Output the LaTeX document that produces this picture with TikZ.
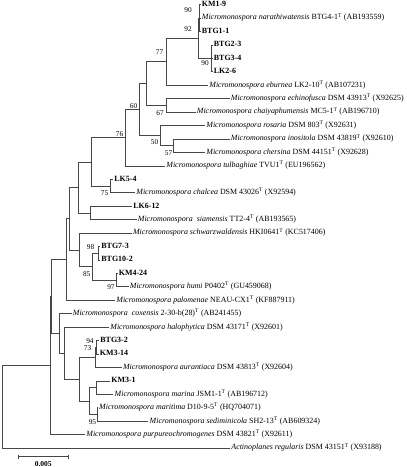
\documentclass[tikz,border=0pt]{standalone}
\usepackage{fontspec}
\setmainfont{Liberation Serif}
\newcommand{\mmono}[3]{\textit{Micromonospora #1} #2\textsuperscript{T} (#3)}
\begin{document}
\begin{tikzpicture}[x=1pt,y=-1pt,
  br/.style={draw=black!72,line width=0.5pt},
  leaf/.style={anchor=west,inner xsep=1.2pt,inner ysep=0pt,text height=5.5pt,text depth=1.6pt,font=\fontsize{7.95}{9}\selectfont},
  iso/.style={leaf,font=\fontsize{7.95}{9}\selectfont\bfseries},
  boot/.style={inner sep=0pt,font=\fontsize{7.3}{8}\selectfont}]
\useasboundingbox (0,0) rectangle (407,467);
% internal nodes
\coordinate (n90a) at (199.5,17.95);
\coordinate (n90b) at (211.5,58.25);
\coordinate (n92) at (198,38.1);
\coordinate (n77) at (166,61.6);
\coordinate (n67) at (166,105.3);
\coordinate (na) at (146.7,83.45);
\coordinate (n57) at (173.3,145.6);
\coordinate (n50) at (160.3,135.55);
\coordinate (n60) at (139.3,109.5);
\coordinate (n76) at (125,137.65);
\coordinate (n75) at (110,185.95);
\coordinate (nb) at (91.3,161.8);
\coordinate (nc) at (90.7,212.8);
\coordinate (nq) at (78.3,187.3);
\coordinate (n98) at (98.7,253.15);
\coordinate (n97) at (116,280);
\coordinate (n85) at (92.3,266.6);
\coordinate (nr) at (79.3,249.8);
\coordinate (np) at (69,218.55);
\coordinate (ns) at (66,259.4);
\coordinate (n94) at (96.7,347.25);
\coordinate (n73) at (95.7,357.3);
\coordinate (nk) at (96.3,387.55);
\coordinate (n95) at (97.3,414.45);
\coordinate (nm) at (89.3,401);
\coordinate (nh) at (79.3,379.15);
\coordinate (ng) at (64,353.1);
\coordinate (nu) at (59.3,333.35);
\coordinate (nt) at (51.7,296.4);
\coordinate (nv) at (50,365.5);
\coordinate (root) at (2.7,406.8);
% leaves
\node[iso]  (l0)  at (200.5,4.5)   {KM1-9};
\node[leaf] (l1)  at (200.5,17.94) {\mmono{narathiwatensis}{BTG4-1}{AB193559}};
\node[iso]  (l2)  at (200.5,31.38) {BTG1-1};
\node[iso]  (l3)  at (212.5,44.82) {BTG2-3};
\node[iso]  (l4)  at (212.5,58.26) {BTG3-4};
\node[iso]  (l5)  at (212.5,71.7)  {LK2-6};
\node[leaf] (l6)  at (208,85.14)   {\mmono{eburnea}{LK2-10}{AB107231}};
\node[leaf] (l7)  at (229.5,98.58) {\mmono{echinofusca}{DSM 43913}{X92625}};
\node[leaf] (l8)  at (195.5,112.02){\mmono{chaiyaphumensis}{MC5-1}{AB196710}};
\node[leaf] (l9)  at (205,125.46)  {\mmono{rosaria}{DSM 803}{X92631}};
\node[leaf] (l10) at (229.5,138.9) {\mmono{inositola}{DSM 43819}{X92610}};
\node[leaf] (l11) at (205,152.34)  {\mmono{chersina}{DSM 44151}{X92628}};
\node[leaf] (l12) at (165,165.78)  {\mmono{tulbaghiae}{TVU1}{EU196562}};
\node[iso]  (l13) at (113,179.22)  {LK5-4};
\node[leaf] (l14) at (135,192.66)  {\mmono{chalcea}{DSM 43026}{X92594}};
\node[iso]  (l15) at (132,206.1)   {LK6-12};
\node[leaf] (l16) at (136.5,219.54){\textit{Micromonospora\ \ siamensis} TT2-4\textsuperscript{T} (AB193565)};
\node[leaf] (l17) at (131.7,232.98){\mmono{schwarzwaldensis}{HKI0641}{KC517406}};
\node[iso]  (l18) at (100,246.42)  {BTG7-3};
\node[iso]  (l19) at (100,259.86)  {BTG10-2};
\node[iso]  (l20) at (117.5,273.3) {KM4-24};
\node[leaf] (l21) at (128.5,286.74){\mmono{humi}{P0402}{GU459068}};
\node[leaf] (l22) at (115,300.18)  {\mmono{palomenae}{NEAU-CX1}{KF887911}};
\node[leaf] (l23) at (71.5,313.62) {\textit{Micromonospora\ \ coxensis} 2-30-b(28)\textsuperscript{T} (AB241455)};
\node[leaf] (l24) at (109,327.06)  {\mmono{halophytica}{DSM 43171}{X92601}};
\node[iso]  (l25) at (99,340.5)    {BTG3-2};
\node[iso]  (l26) at (98.5,353.94) {KM3-14};
\node[leaf] (l27) at (121.7,367.38){\mmono{aurantiaca}{DSM 43813}{X92604}};
\node[iso]  (l28) at (110,380.82)  {KM3-1};
\node[leaf] (l29) at (113.3,394.26){\mmono{marina}{JSM1-1}{AB196712}};
\node[leaf] (l30) at (97.8,407.7)  {\mmono{maritima}{D10-9-5}{HQ704071}};
\node[leaf] (l31) at (148.3,421.14){\mmono{sediminicola}{SH2-13}{AB609324}};
\node[leaf] (l32) at (85,434.58)   {\mmono{purpureochromogenes}{DSM 43821}{X92611}};
\node[leaf] (l33) at (230,448.02)  {\textit{Actinoplanes regularis} DSM 43151\textsuperscript{T} (X93188)};
% branches
\draw[br] (n90a) |- (l0.west); \draw[br] (n90a) |- (l1.west); \draw[br] (n90a) |- (l2.west);
\draw[br] (n90b) |- (l3.west); \draw[br] (n90b) |- (l4.west); \draw[br] (n90b) |- (l5.west);
\draw[br] (n92) |- (n90a); \draw[br] (n92) |- (n90b);
\draw[br] (n77) |- (n92); \draw[br] (n77) |- (l6.west);
\draw[br] (n67) |- (l7.west); \draw[br] (n67) |- (l8.west);
\draw[br] (na) |- (n77); \draw[br] (na) |- (n67);
\draw[br] (n57) |- (l10.west); \draw[br] (n57) |- (l11.west);
\draw[br] (n50) |- (l9.west); \draw[br] (n50) |- (n57);
\draw[br] (n60) |- (na); \draw[br] (n60) |- (n50);
\draw[br] (n76) |- (n60); \draw[br] (n76) |- (l12.west);
\draw[br] (n75) |- (l13.west); \draw[br] (n75) |- (l14.west);
\draw[br] (nb) |- (n76); \draw[br] (nb) |- (n75);
\draw[br] (nc) |- (l15.west); \draw[br] (nc) |- (l16.west);
\draw[br] (nq) |- (nb); \draw[br] (nq) |- (nc);
\draw[br] (n98) |- (l18.west); \draw[br] (n98) |- (l19.west);
\draw[br] (n97) |- (l20.west); \draw[br] (n97) |- (l21.west);
\draw[br] (n85) |- (n98); \draw[br] (n85) |- (n97);
\draw[br] (nr) |- (l17.west); \draw[br] (nr) |- (n85);
\draw[br] (np) |- (nq); \draw[br] (np) |- (nr);
\draw[br] (ns) |- (np); \draw[br] (ns) |- (l22.west);
\draw[br] (n94) |- (l25.west); \draw[br] (n94) |- (l26.west);
\draw[br] (n73) |- (n94); \draw[br] (n73) |- (l27.west);
\draw[br] (nk) |- (l28.west); \draw[br] (nk) |- (l29.west);
\draw[br] (n95) |- (l30.west); \draw[br] (n95) |- (l31.west);
\draw[br] (nm) |- (nk); \draw[br] (nm) |- (n95);
\draw[br] (nh) |- (n73); \draw[br] (nh) |- (nm);
\draw[br] (ng) |- (l24.west); \draw[br] (ng) |- (nh);
\draw[br] (nu) |- (l23.west); \draw[br] (nu) |- (ng);
\draw[br] (nt) |- (ns); \draw[br] (nt) |- (nu);
\draw[br] (nv) |- (nt); \draw[br] (nv) |- (l32.west);
\draw[br] (root) |- (nv); \draw[br] (root) |- (l33.west);
% bootstrap values
\node[boot] (b90a) at (188,10.5) {90};
\node[boot] (b92) at (188,29) {92};
\node[boot] (b90b) at (205,63.5) {90};
\node[boot] (b77) at (159.5,52) {77};
\node[boot] (b67) at (160,113) {67};
\node[boot] (b60) at (133.5,106) {60};
\node[boot] (b50) at (154.5,142.5) {50};
\node[boot] (b57) at (168.5,153.5) {57};
\node[boot] (b76) at (119.5,134) {76};
\node[boot] (b75) at (104.5,193.5) {75};
\node[boot] (b98) at (90.5,246.7) {98};
\node[boot] (b85) at (86.7,274.3) {85};
\node[boot] (b97) at (111,287.5) {97};
\node[boot] (b94) at (90,341.5) {94};
\node[boot] (b73) at (87.5,348) {73};
\node[boot] (b95) at (92.5,422) {95};
% scale bar
\coordinate (sb1) at (18.3,456.7);
\coordinate (sb2) at (68.3,456.7);
\draw[br] (sb1) -- (sb2);
\draw[br] ([yshift=2pt]sb1) -- ([yshift=-2pt]sb1);
\draw[br] ([yshift=2pt]sb2) -- ([yshift=-2pt]sb2);
\node[boot,font=\fontsize{7.5}{8}\selectfont\bfseries] (sbl) at (43.3,463.6) {0.005};
\end{tikzpicture}
\end{document}
